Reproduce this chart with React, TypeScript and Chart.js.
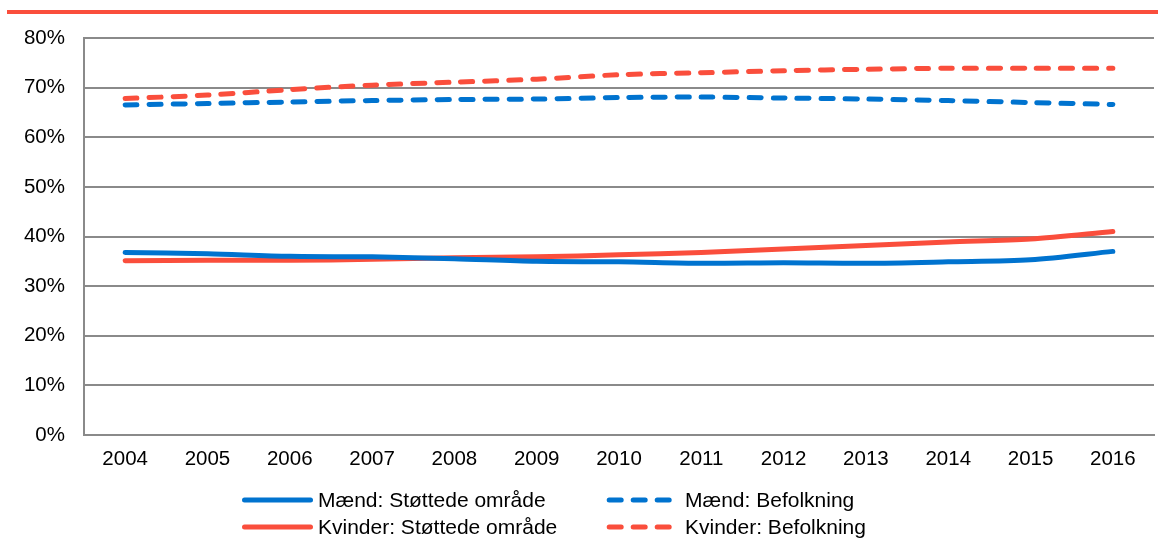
import React, { useEffect, useRef } from "react";
import { Chart, registerables } from "chart.js";

Chart.register(...registerables);

const years = ["2004", "2005", "2006", "2007", "2008", "2009", "2010", "2011", "2012", "2013", "2014", "2015", "2016"];
const maendStottede = [36.8, 36.5, 36.0, 35.9, 35.5, 35.0, 34.9, 34.6, 34.7, 34.6, 34.9, 35.3, 37.0];
const kvinderStottede = [35.1, 35.2, 35.2, 35.4, 35.7, 35.9, 36.3, 36.8, 37.5, 38.2, 38.9, 39.5, 41.0];
const maendBefolkning = [66.5, 66.8, 67.1, 67.4, 67.6, 67.7, 68.0, 68.1, 67.9, 67.7, 67.4, 67.0, 66.6];
const kvinderBefolkning = [67.8, 68.5, 69.6, 70.5, 71.1, 71.7, 72.6, 73.0, 73.4, 73.7, 73.9, 73.9, 73.9];
const yTicks = [0, 10, 20, 30, 40, 50, 60, 70, 80];

const seriesNames = [
  "Mænd: Støttede område",
  "Mænd: Befolkning",
  "Kvinder: Støttede område",
  "Kvinder: Befolkning",
];

const BLUE = "#0073CF";
const RED = "#FA4E3C";
const GRID = "#8a8a8a";
const FONT = "'Liberation Sans', Arial, Helvetica, sans-serif";

export default function App() {
  const canvasRef = useRef<HTMLCanvasElement | null>(null);

  useEffect(() => {
    if (!canvasRef.current) return;
    const chart = new Chart(canvasRef.current, {
      type: "line",
      data: {
        labels: years,
        datasets: [
          {
            label: seriesNames[0],
            data: maendStottede,
            borderColor: BLUE,
            backgroundColor: BLUE,
            borderWidth: 5,
          },
          {
            label: seriesNames[2],
            data: kvinderStottede,
            borderColor: RED,
            backgroundColor: RED,
            borderWidth: 5,
          },
          {
            label: seriesNames[1],
            data: maendBefolkning,
            borderColor: BLUE,
            backgroundColor: BLUE,
            borderWidth: 5,
            borderDash: [12, 12],
          },
          {
            label: seriesNames[3],
            data: kvinderBefolkning,
            borderColor: RED,
            backgroundColor: RED,
            borderWidth: 5,
            borderDash: [12, 12],
          },
        ],
      },
      options: {
        responsive: false,
        animation: false,
        devicePixelRatio: 1,
        layout: { padding: { top: 38, left: 0, right: 4, bottom: 63 } },
        elements: {
          point: { radius: 0, hoverRadius: 0 },
          line: { tension: 0.3, borderCapStyle: "round", borderJoinStyle: "round", fill: false },
        },
        plugins: {
          legend: { display: false },
          tooltip: { enabled: false },
        },
        scales: {
          x: {
            offset: true,
            grid: { display: false, drawTicks: false },
            border: { display: true, color: GRID, width: 2 },
            ticks: {
              color: "#000",
              font: { family: FONT, size: 20.5 },
              padding: 12,
              maxRotation: 0,
              autoSkip: false,
            },
            afterFit: (scale: any) => {
              scale.height = 40;
            },
          },
          y: {
            min: 0,
            max: 80,
            afterBuildTicks: (scale: any) => {
              scale.ticks = yTicks.map((v) => ({ value: v }));
            },
            grid: { color: GRID, lineWidth: 2, drawTicks: false },
            border: { display: true, color: GRID, width: 2 },
            ticks: {
              color: "#000",
              font: { family: FONT, size: 20.5 },
              padding: 19,
              callback: (v: any) => v + "%",
            },
            afterFit: (scale: any) => {
              scale.width = 84;
            },
          },
        },
      },
    });
    return () => chart.destroy();
  }, []);

  const legendItems = [
    { name: seriesNames[0], color: BLUE, dashed: false, col: 0, row: 0 },
    { name: seriesNames[1], color: BLUE, dashed: true, col: 1, row: 0 },
    { name: seriesNames[2], color: RED, dashed: false, col: 0, row: 1 },
    { name: seriesNames[3], color: RED, dashed: true, col: 1, row: 1 },
  ];

  return (
    <div style={{ position: "absolute", left: 0, top: 0, width: 1158, height: 538, overflow: "hidden", background: "#fff" }}>
      <div style={{ position: "absolute", left: 7, top: 10, width: 1151, height: 4, background: RED }} />
      <canvas ref={canvasRef} width={1158} height={538} style={{ position: "absolute", left: 0, top: 0, width: 1158, height: 538 }} />
      {legendItems.map((it) => {
        const cy = it.row === 0 ? 500 : 527;
        const x1 = it.col === 0 ? 244.5 : 609.2;
        const x2 = it.col === 0 ? 310.5 : 669.2;
        const tx = it.col === 0 ? 318 : 685;
        return (
          <React.Fragment key={it.name}>
            <svg style={{ position: "absolute", left: 0, top: cy - 5, overflow: "visible" }} width={1} height={10}>
              <line
                x1={x1}
                x2={x2}
                y1={5}
                y2={5}
                stroke={it.color}
                strokeWidth={5}
                strokeLinecap="round"
                strokeDasharray={it.dashed ? "12 12" : undefined}
              />
            </svg>
            <div
              style={{
                position: "absolute",
                left: tx,
                top: cy - 13,
                height: 26,
                lineHeight: "26px",
                fontFamily: FONT,
                fontSize: 21,
                color: "#000",
                whiteSpace: "nowrap",
              }}
            >
              {it.name}
            </div>
          </React.Fragment>
        );
      })}
    </div>
  );
}
